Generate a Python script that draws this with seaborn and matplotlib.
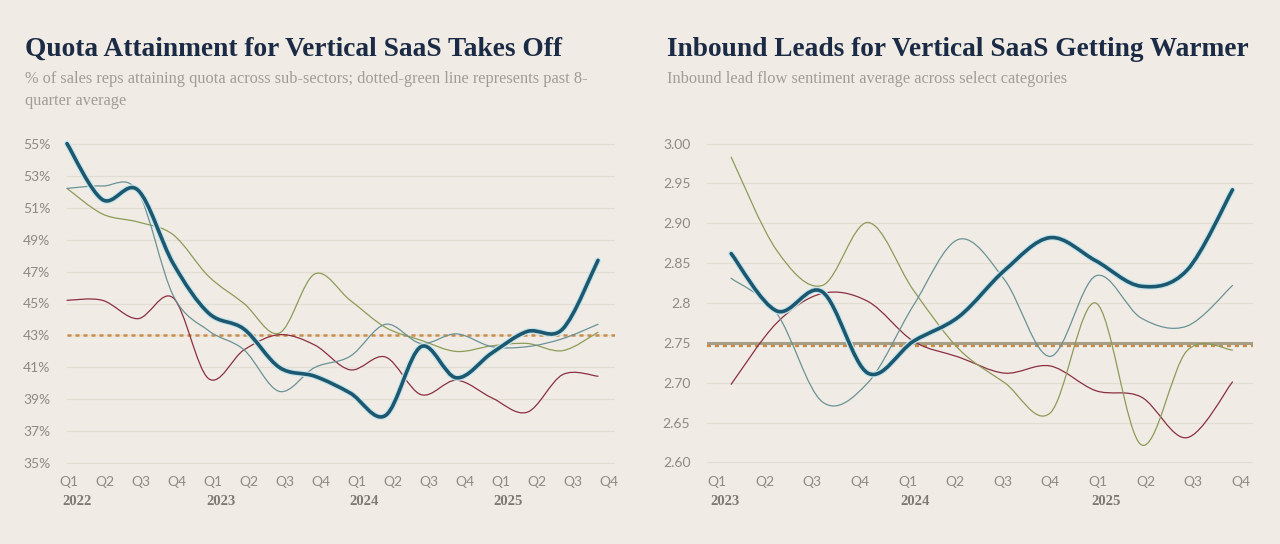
import matplotlib
matplotlib.use("Agg")
import matplotlib.pyplot as plt
import matplotlib.patheffects as pe
from matplotlib.path import Path
from matplotlib.patches import PathPatch
from matplotlib.transforms import blended_transform_factory
import numpy as np
import seaborn as sns

# ---- data ----
quarter_names = ["Q1", "Q2", "Q3", "Q4"]

left_labels = quarter_names * 4
left_years = ["2022", "2023", "2024", "2025"]
left_blue = [55.0, 51.5, 52.1, 47.5, 44.4, 43.4, 41.0, 40.45, 39.4, 38.0, 42.3, 40.35, 41.9, 43.25, 43.4, 47.7]
left_teal = [52.2, 52.35, 52.0, 45.5, 43.3, 42.1, 39.5, 41.0, 41.7, 43.7, 42.5, 43.1, 42.3, 42.3, 42.8, 43.7]
left_olive = [52.2, 50.6, 50.1, 49.3, 46.7, 45.0, 43.15, 46.85, 45.2, 43.5, 42.7, 42.0, 42.35, 42.5, 42.05, 43.2]
left_red = [45.2, 45.2, 44.05, 45.35, 40.3, 42.1, 43.05, 42.4, 40.85, 41.65, 39.3, 40.2, 39.1, 38.2, 40.55, 40.45]
left_avg = 43.0
left_yticks = [35, 37, 39, 41, 43, 45, 47, 49, 51, 53, 55]

right_labels = quarter_names * 3
right_years = ["2023", "2024", "2025"]
right_blue = [2.862, 2.79, 2.814, 2.712, 2.752, 2.783, 2.841, 2.882, 2.853, 2.821, 2.841, 2.942]
right_teal = [2.831, 2.787, 2.676, 2.70, 2.797, 2.88, 2.829, 2.733, 2.834, 2.781, 2.771, 2.822]
right_olive = [2.983, 2.866, 2.822, 2.901, 2.816, 2.742, 2.70, 2.662, 2.80, 2.622, 2.74, 2.741]
right_red = [2.698, 2.775, 2.812, 2.802, 2.752, 2.732, 2.712, 2.721, 2.69, 2.682, 2.631, 2.701]
right_avg_solid = 2.75
right_avg_dash = 2.7465
right_yticks = [2.60, 2.65, 2.70, 2.75, 2.80, 2.85, 2.90, 2.95, 3.00]
right_yticklabels = ["2.60", "2.65", "2.70", "2.75", "2.8", "2.85", "2.90", "2.95", "3.00"]

BG = "#f0ece5"
BLUE = "#1c5870"
TEAL = "#6a9296"
OLIVE = "#8d9b58"
RED = "#8b2f3f"
ORANGE = "#c98b4a"
GRID = "#e2ddd2"
TICK = "#8d8a85"
TITLE = "#1c2b45"
SUB = "#a19d96"

sns.set_theme(style="white", rc={"axes.facecolor": BG, "figure.facecolor": BG,
                                 "savefig.facecolor": BG})
plt.rcParams["font.family"] = ["Lato", "DejaVu Sans"]
SERIF = ["Liberation Serif", "DejaVu Serif"]


def smooth_path(x, y):
    # catmull-rom curve through the points, as cubic bezier segments
    pts = np.column_stack([x, y]).astype(float)
    n = len(pts)
    verts = [pts[0]]
    codes = [Path.MOVETO]
    for i in range(n - 1):
        p0 = pts[max(i - 1, 0)]
        p1 = pts[i]
        p2 = pts[i + 1]
        p3 = pts[min(i + 2, n - 1)]
        verts += [p1 + (p2 - p0) / 6, p2 - (p3 - p1) / 6, p2]
        codes += [Path.CURVE4] * 3
    return Path(verts, codes)


def draw_series(ax, values, color, lw, halo=False):
    x = np.arange(len(values))
    patch = PathPatch(smooth_path(x, values), fill=False, edgecolor=color, lw=lw,
                      capstyle="round", joinstyle="round", clip_on=False, zorder=3)
    if halo:
        patch.set_path_effects([pe.Stroke(linewidth=lw + 1.8, foreground="#c9e5ea"), pe.Normal()])
        patch.set_zorder(4)
    ax.add_patch(patch)


def style_axes(ax, tick_pos, labels, years, year_step, year_off):
    sns.despine(ax=ax, left=True, bottom=True)
    ax.grid(axis="y", color=GRID, lw=0.9)
    ax.grid(axis="x", visible=False)
    ax.set_axisbelow(True)
    ax.set_xticks(tick_pos)
    ax.set_xticklabels(labels)
    ax.tick_params(axis="both", length=0, labelsize=10, labelcolor=TICK)
    ax.tick_params(axis="y", pad=12)
    ax.tick_params(axis="x", pad=9)
    tr = blended_transform_factory(ax.transData, ax.transAxes)
    for k, yr in enumerate(years):
        ax.text(tick_pos[k * year_step] - year_off, -0.118, yr, transform=tr, ha="left",
                va="center", family=SERIF, weight="bold", size=10.5, color="#7d7a74")


fig = plt.figure(figsize=(12.8, 5.44), dpi=100)

# ---- left chart ----
axl = fig.add_axes([67 / 1280, 1 - 464 / 544, 548 / 1280, 321 / 544])
axl.set_xlim(0, 15.48)
axl.set_ylim(34.96, 55.04)
axl.axhline(left_avg, color=ORANGE, lw=1.8, dashes=(1.6, 1.6), zorder=2)
draw_series(axl, left_red, RED, 0.9)
draw_series(axl, left_olive, OLIVE, 0.9)
draw_series(axl, left_teal, TEAL, 0.9)
draw_series(axl, left_blue, BLUE, 2.6, halo=True)
axl.set_yticks(left_yticks)
axl.set_yticklabels([f"{v}%" for v in left_yticks])
style_axes(axl, np.linspace(0.06, 15.3, 16), left_labels, left_years, 4, 0.2)

# ---- right chart ----
axr = fig.add_axes([707 / 1280, 1 - 464 / 544, 546 / 1280, 322 / 544])
axr.set_xlim(-0.53, 11.45)
axr.set_ylim(2.598, 3.002)
axr.axhline(right_avg_solid, color="#a79e86", lw=2.2, zorder=2)
axr.axhline(right_avg_dash, color=ORANGE, lw=1.6, dashes=(1.8, 1.8), zorder=2)
draw_series(axr, right_red, RED, 0.9)
draw_series(axr, right_olive, OLIVE, 0.9)
draw_series(axr, right_teal, TEAL, 0.9)
draw_series(axr, right_blue, BLUE, 2.6, halo=True)
axr.set_yticks(right_yticks)
axr.set_yticklabels(right_yticklabels)
style_axes(axr, np.linspace(-0.31, 11.18, 12), right_labels, right_years, 4, 0.15)

# ---- titles ----
fig.text(25 / 1280, 1 - 56 / 544, "Quota Attainment for Vertical SaaS Takes Off",
         family=SERIF, weight="bold", size=19.75, color=TITLE, va="baseline")
fig.text(25 / 1280, 1 - 83 / 544,
         "% of sales reps attaining quota across sub-sectors; dotted-green line represents past 8-",
         family=SERIF, size=11.75, color=SUB, va="baseline")
fig.text(25 / 1280, 1 - 105 / 544, "quarter average",
         family=SERIF, size=11.75, color=SUB, va="baseline")

fig.text(667 / 1280, 1 - 56 / 544, "Inbound Leads for Vertical SaaS Getting Warmer",
         family=SERIF, weight="bold", size=19.75, color=TITLE, va="baseline")
fig.text(667 / 1280, 1 - 83 / 544, "Inbound lead flow sentiment average across select categories",
         family=SERIF, size=11.75, color=SUB, va="baseline")

fig.savefig("out.png", dpi=100)
